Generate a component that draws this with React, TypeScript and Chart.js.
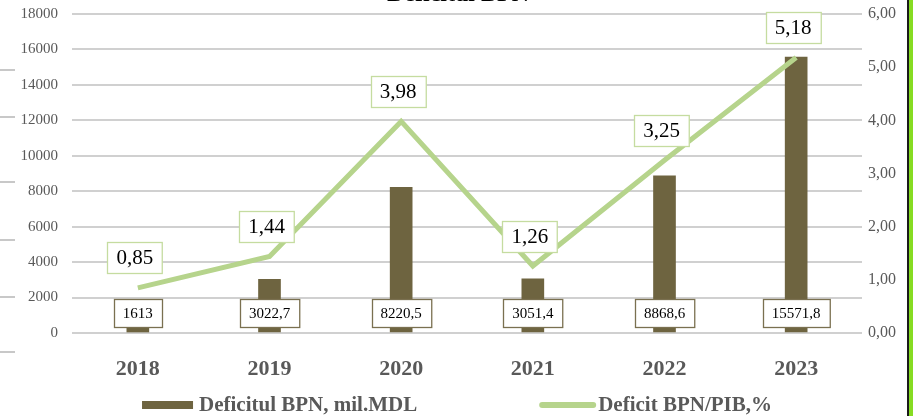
import React, { useEffect, useRef } from 'react';
import { Chart, registerables } from 'chart.js';
Chart.register(...registerables);

const W = 913;
const H = 416;

const categories = ['2018', '2019', '2020', '2021', '2022', '2023'];
const deficitValues = [1613, 3022.7, 8220.5, 3051.4, 8868.6, 15571.8];
const deficitPctValues = [0.85, 1.44, 3.98, 1.26, 3.25, 5.18];
const seriesNames = ['Deficitul BPN, mil.MDL', 'Deficit BPN/PIB,%'];
const titleText = 'Deficitul BPN';

const BAR_COLOR = '#6e6440';
const LINE_COLOR = '#b6d48c';
const TEXT_GREY = '#595959';
const SERIF = '"Liberation Serif", "Times New Roman", serif';

const fmtComma = (v: number) => String(v).replace('.', ',');

function box(ctx: CanvasRenderingContext2D, text: string, cx: number, cy: number, font: string, padX: number, h: number, stroke: string) {
  ctx.font = font;
  const tw = ctx.measureText(text).width;
  const w = tw + padX * 2;
  const x = Math.round(cx - w / 2) + 0.5;
  const y = Math.round(cy - h / 2) + 0.5;
  ctx.fillStyle = '#ffffff';
  ctx.fillRect(x, y, w, h);
  ctx.strokeStyle = stroke;
  ctx.lineWidth = 1.3;
  ctx.strokeRect(x, y, w, h);
  ctx.fillStyle = '#000000';
  ctx.textAlign = 'center';
  ctx.textBaseline = 'middle';
  ctx.fillText(text, cx, cy + 1);
}

const decorPlugin = {
  id: 'decor',
  beforeDraw(chart: any) {
    const ctx = chart.ctx as CanvasRenderingContext2D;
    ctx.save();
    ctx.fillStyle = '#ffffff';
    ctx.fillRect(0, 0, W, H);
    ctx.restore();
  },
  afterDraw(chart: any) {
    const ctx = chart.ctx as CanvasRenderingContext2D;
    ctx.save();
    // cut-off title
    ctx.font = `bold 24px ${SERIF}`;
    ctx.fillStyle = '#000000';
    ctx.textAlign = 'center';
    ctx.textBaseline = 'alphabetic';
    ctx.fillText(titleText, 458, 1);
    // stray stubs at left edge
    ctx.strokeStyle = '#c8c8c8';
    ctx.lineWidth = 2;
    [70, 117, 182, 240, 297, 352].forEach((y) => {
      ctx.beginPath();
      ctx.moveTo(0, y);
      ctx.lineTo(15, y);
      ctx.stroke();
    });
    // right border
    ctx.fillStyle = '#1a1a1a';
    ctx.fillRect(907, 0, 2, H);
    ctx.fillStyle = '#86dc22';
    ctx.fillRect(909, 0, 4, H);

    // legend
    const font = `bold 21px ${SERIF}`;
    ctx.font = font;
    const t1 = ctx.measureText(seriesNames[0]).width;
    const t2 = ctx.measureText(seriesNames[1]).width;
    const w1 = 51 + 6 + t1;
    const w2 = 57 + 2 + t2;
    const gap = 122;
    const total = w1 + gap + w2;
    let x = 457 - total / 2;
    const ly = 405;
    ctx.fillStyle = BAR_COLOR;
    ctx.fillRect(x, ly - 4, 51, 8);
    ctx.fillStyle = TEXT_GREY;
    ctx.textAlign = 'left';
    ctx.textBaseline = 'middle';
    ctx.fillText(seriesNames[0], x + 57, ly + 1);
    x += w1 + gap;
    ctx.strokeStyle = LINE_COLOR;
    ctx.lineWidth = 6;
    ctx.lineCap = 'round';
    ctx.beginPath();
    ctx.moveTo(x + 3, ly);
    ctx.lineTo(x + 54, ly);
    ctx.stroke();
    ctx.fillStyle = TEXT_GREY;
    ctx.fillText(seriesNames[1], x + 59, ly + 1);
    ctx.restore();
  },
  afterDatasetsDraw(chart: any) {
    const ctx = chart.ctx as CanvasRenderingContext2D;
    ctx.save();
    const barMeta = chart.getDatasetMeta(0);
    const yBase = chart.scales.y.getPixelForValue(0);
    barMeta.data.forEach((el: any, i: number) => {
      box(ctx, fmtComma(deficitValues[i]), el.x, yBase - 20, `15px ${SERIF}`, 9, 28, '#7a7050');
    });
    const lineMeta = chart.getDatasetMeta(1);
    lineMeta.data.forEach((el: any, i: number) => {
      box(ctx, deficitPctValues[i].toFixed(2).replace('.', ','), el.x - 3, el.y - 30, `21px ${SERIF}`, 9, 31, '#c5dca0');
    });
    ctx.restore();
  },
};

export default function App() {
  const ref = useRef<HTMLCanvasElement>(null);
  useEffect(() => {
    const chart = new Chart(ref.current!, {
      type: 'bar',
      data: {
        labels: categories,
        datasets: [
          {
            type: 'bar',
            label: seriesNames[0],
            data: deficitValues,
            backgroundColor: BAR_COLOR,
            barThickness: 22,
            yAxisID: 'y',
            order: 1,
          },
          {
            type: 'line',
            label: seriesNames[1],
            data: deficitPctValues,
            borderColor: LINE_COLOR,
            borderWidth: 5,
            pointRadius: 0,
            tension: 0,
            yAxisID: 'y1',
            order: 0,
          } as any,
        ],
      },
      options: {
        responsive: false,
        animation: false,
        devicePixelRatio: 1,
        layout: { padding: { top: 14, left: 0, right: 0, bottom: 0 } },
        plugins: {
          legend: { display: false },
          title: { display: false },
          tooltip: { enabled: false },
        },
        scales: {
          x: {
            grid: { display: false },
            border: { display: false },
            ticks: {
              color: TEXT_GREY,
              font: { family: SERIF, size: 22, weight: 'bold' },
              padding: 15,
            },
            afterFit: (s: any) => {
              s.height = 83;
              s.paddingLeft = 0;
              s.paddingRight = 0;
            },
          },
          y: {
            position: 'left',
            min: 0,
            max: 18000,
            ticks: {
              stepSize: 2000,
              color: TEXT_GREY,
              font: { family: SERIF, size: 15 },
              padding: 14,
              callback: (v: any) => String(v),
            },
            grid: { color: '#d0d0d0', lineWidth: 2, drawTicks: false },
            border: { display: false },
            afterFit: (s: any) => {
              s.width = 72;
              s.paddingTop = 0;
              s.paddingBottom = 0;
            },
          },
          y1: {
            position: 'right',
            min: 0,
            max: 6,
            ticks: {
              stepSize: 1,
              color: TEXT_GREY,
              font: { family: SERIF, size: 16 },
              padding: 6,
              callback: (v: any) => Number(v).toFixed(2).replace('.', ','),
            },
            grid: { display: false, drawTicks: false },
            border: { display: false },
            afterFit: (s: any) => {
              s.width = 51;
              s.paddingTop = 0;
              s.paddingBottom = 0;
            },
          },
        } as any,
      },
      plugins: [decorPlugin],
    });
    return () => chart.destroy();
  }, []);
  return (
    <div style={{ position: 'fixed', left: 0, top: 0, width: W, height: H, background: '#fff' }}>
      <canvas ref={ref} width={W} height={H} style={{ width: W, height: H, display: 'block' }} />
    </div>
  );
}
